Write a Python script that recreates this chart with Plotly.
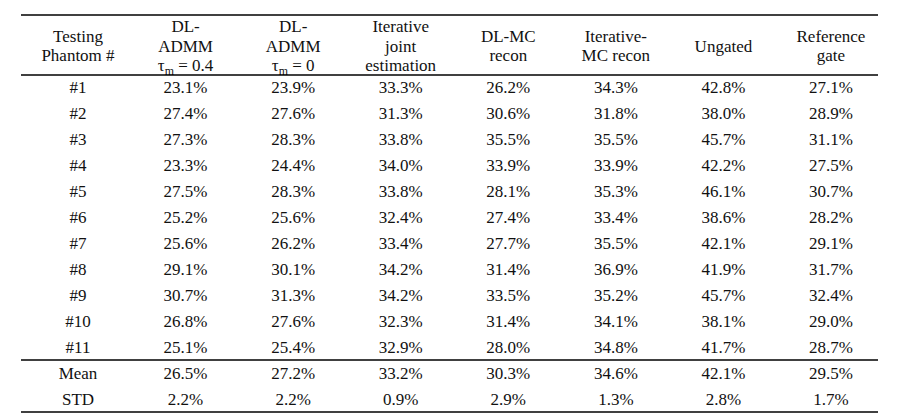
import plotly.graph_objects as go

# ---------------- data ----------------
row_labels = ["#1", "#2", "#3", "#4", "#5", "#6", "#7", "#8", "#9", "#10", "#11"]
summary_labels = ["Mean", "STD"]

header_first = ["Testing", "Phantom #"]
method_headers = [
    ["DL-", "ADMM", "τ<sub>m</sub> = 0.4"],
    ["DL-", "ADMM", "τ<sub>m</sub> = 0"],
    ["Iterative", "joint", "estimation"],
    ["DL-MC", "recon"],
    ["Iterative-", "MC recon"],
    ["Ungated"],
    ["Reference", "gate"],
]

dl_admm_04 = [23.1, 27.4, 27.3, 23.3, 27.5, 25.2, 25.6, 29.1, 30.7, 26.8, 25.1]
dl_admm_0 = [23.9, 27.6, 28.3, 24.4, 28.3, 25.6, 26.2, 30.1, 31.3, 27.6, 25.4]
iter_joint = [33.3, 31.3, 33.8, 34.0, 33.8, 32.4, 33.4, 34.2, 34.2, 32.3, 32.9]
dl_mc = [26.2, 30.6, 35.5, 33.9, 28.1, 27.4, 27.7, 31.4, 33.5, 31.4, 28.0]
iter_mc = [34.3, 31.8, 35.5, 33.9, 35.3, 33.4, 35.5, 36.9, 35.2, 34.1, 34.8]
ungated = [42.8, 38.0, 45.7, 42.2, 46.1, 38.6, 42.1, 41.9, 45.7, 38.1, 41.7]
reference_gate = [27.1, 28.9, 31.1, 27.5, 30.7, 28.2, 29.1, 31.7, 32.4, 29.0, 28.7]

mean_values = [26.5, 27.2, 33.2, 30.3, 34.6, 42.1, 29.5]
std_values = [2.2, 2.2, 0.9, 2.9, 1.3, 2.8, 1.7]

series = [dl_admm_04, dl_admm_0, iter_joint, dl_mc, iter_mc, ungated, reference_gate]

# ---------------- layout constants ----------------
W, H = 918, 413
FONT = dict(family="'Liberation Serif', 'Times New Roman', Times, 'DejaVu Serif', serif",
            size=17, color="#111111")
ROW_PX = 26.0          # pixel spacing between body rows
FIRST_ROW_PX = 81.0    # pixel center of first body row
COL_PX = 107.57        # pixel spacing between columns
FIRST_COL_PX = 70.0    # pixel center of first column
HEADER_CENTER = -1.6   # header vertical center (row units)
HEADER_GAP = 0.75      # header line gap (row units)
RULE_X0, RULE_X1 = -0.53, 7.437

n_rows = len(row_labels) + len(summary_labels)
all_labels = row_labels + summary_labels

fig = go.Figure()

# first column (row labels)
fig.add_trace(go.Scatter(
    x=[0] * n_rows, y=list(range(n_rows)), text=all_labels,
    mode="text", textposition="middle center", textfont=FONT,
    hoverinfo="skip", showlegend=False))

# value columns
for ci, vals in enumerate(series):
    col_vals = vals + [mean_values[ci], std_values[ci]]
    fig.add_trace(go.Scatter(
        x=[ci + 1] * n_rows, y=list(range(n_rows)),
        text=[f"{v:.1f}%" for v in col_vals],
        mode="text", textposition="middle center", textfont=FONT,
        hoverinfo="skip", showlegend=False))

# headers
all_headers = [header_first] + method_headers
hx, hy, ht = [], [], []
for ci, lines in enumerate(all_headers):
    n = len(lines)
    for k, line in enumerate(lines):
        hx.append(ci)
        hy.append(HEADER_CENTER + (k - (n - 1) / 2) * HEADER_GAP)
        ht.append(line)
fig.add_trace(go.Scatter(
    x=hx, y=hy, text=ht, mode="text", textposition="middle center",
    textfont=FONT, hoverinfo="skip", showlegend=False))

# horizontal rules (booktabs style)
n_body = len(row_labels)
rules = [HEADER_CENTER - 1.25, -0.54, n_body - 0.58, n_rows - 0.58]
for ry in rules:
    fig.add_shape(type="line", xref="x", yref="y", x0=RULE_X0, x1=RULE_X1,
                  y0=ry, y1=ry, line=dict(color="black", width=1.5))

x_lo = -FIRST_COL_PX / COL_PX
x_hi = (W - FIRST_COL_PX) / COL_PX
y_top = -FIRST_ROW_PX / ROW_PX
y_bot = (H - FIRST_ROW_PX) / ROW_PX

fig.update_layout(
    width=W, height=H,
    margin=dict(l=0, r=0, t=0, b=0),
    paper_bgcolor="white", plot_bgcolor="white",
    font=dict(family="'Liberation Serif', 'Times New Roman', Times, serif"),
    xaxis=dict(range=[x_lo, x_hi], visible=False, fixedrange=True),
    yaxis=dict(range=[y_bot, y_top], visible=False, fixedrange=True),
)

fig.write_html("out.html")
